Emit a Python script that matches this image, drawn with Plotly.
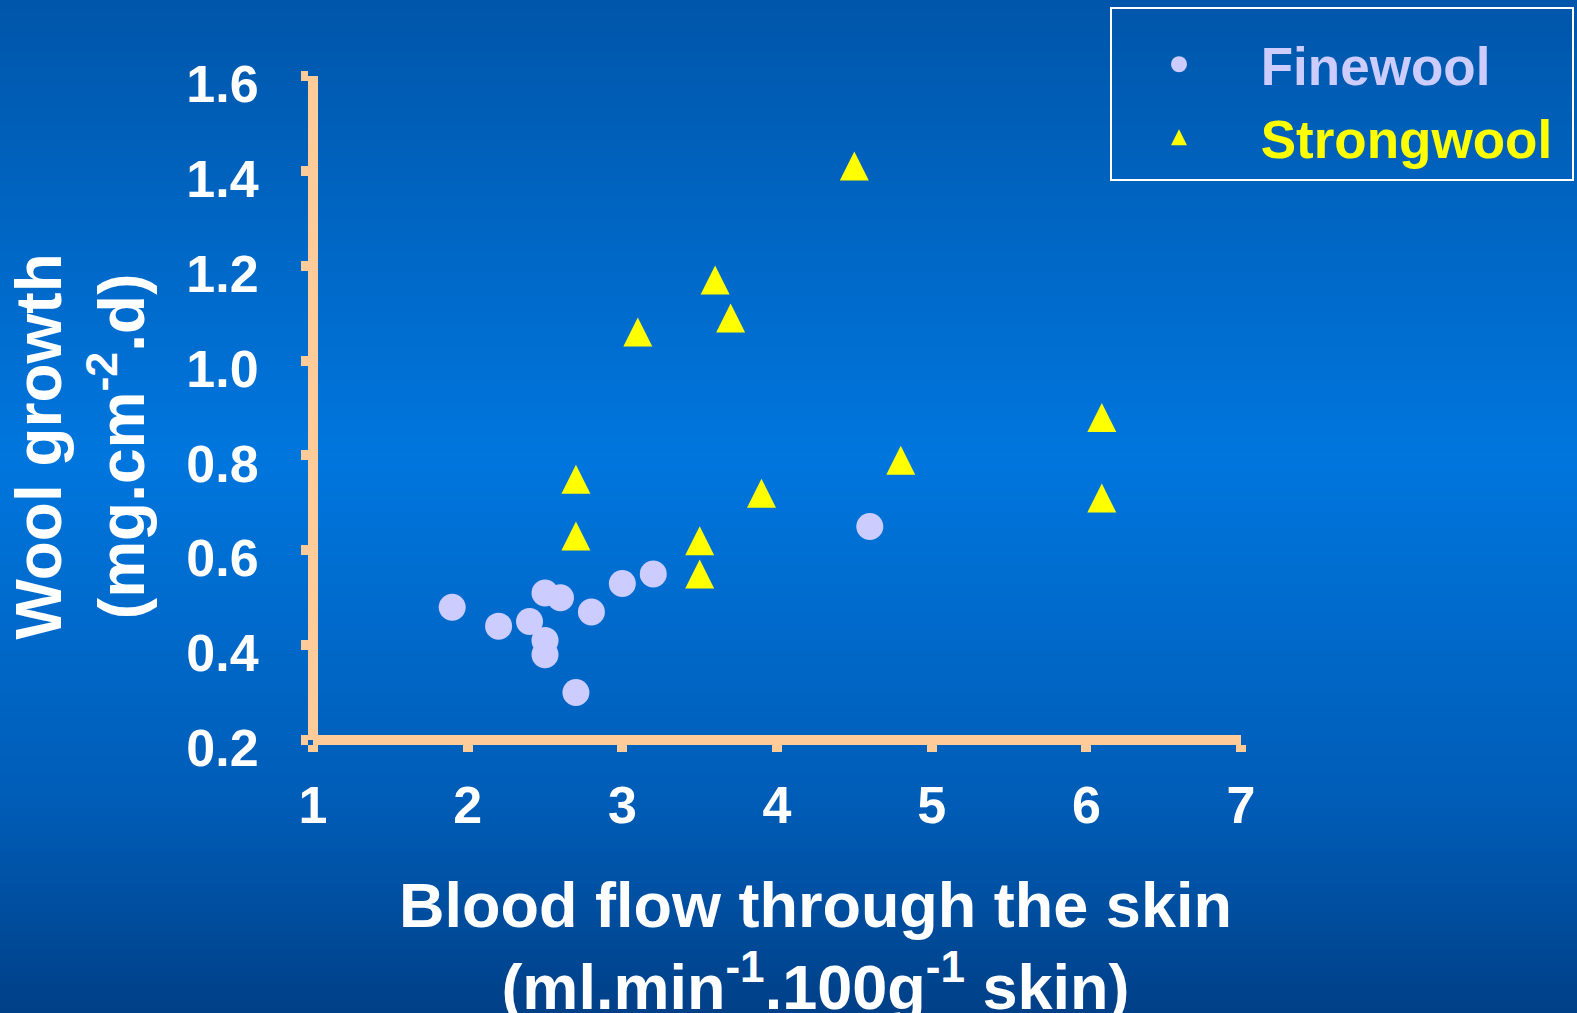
import base64
import struct
import zlib

import plotly.graph_objects as go

# ---------------- data ----------------
fine_x = [1.9, 2.2, 2.4, 2.5, 2.6, 2.5, 2.5, 2.8, 2.7, 3.0, 3.2, 4.6]
fine_y = [0.48, 0.44, 0.45, 0.51, 0.50, 0.41, 0.38, 0.47, 0.30, 0.53, 0.55, 0.65]

strong_x = [4.5, 3.6, 3.7, 3.1, 2.7, 2.7, 3.9, 4.8, 3.5, 3.5, 6.1, 6.1]
strong_y = [1.41, 1.17, 1.09, 1.06, 0.75, 0.63, 0.72, 0.79, 0.62, 0.55, 0.88, 0.71]

x_ticks = [1, 2, 3, 4, 5, 6, 7]
y_ticks = [0.2, 0.4, 0.6, 0.8, 1.0, 1.2, 1.4, 1.6]

series_names = ["Finewool", "Strongwool"]
x_title = "Blood flow through the skin<br>(ml.min<sup>-1</sup>.100g<sup>-1</sup> skin)"
y_title = "Wool growth<br>(mg.cm<sup>-2</sup>.d)"

# ---------------- style ----------------
W, H = 1577, 1013
ML, MR, MT, MB = 313, 336, 76, 273
PW, PH = W - ML - MR, H - MT - MB

FONT = "Liberation Sans, Arial, Helvetica, sans-serif"
AXIS_COLOR = "#FFCC99"
FINE_COLOR = "#CCCCFF"
STRONG_COLOR = "#FFFF00"
TRI = 29          # triangle marker size in the plot (px)
LEG_SIZE = 16     # legend symbols are capped at 16 px by plotly


def gradient_png(stops, n=256):
    rows = []
    for i in range(n):
        t = i / (n - 1)
        for (t0, c0), (t1, c1) in zip(stops[:-1], stops[1:]):
            if t0 <= t <= t1:
                f = (t - t0) / (t1 - t0) if t1 > t0 else 0
                rows.append(tuple(int(round(a + (b - a) * f)) for a, b in zip(c0, c1)))
                break
    raw = b"".join(b"\x00" + bytes(c) * 2 for c in rows)

    def chunk(tag, data):
        return (struct.pack(">I", len(data)) + tag + data +
                struct.pack(">I", zlib.crc32(tag + data) & 0xFFFFFFFF))

    ihdr = struct.pack(">IIBBBBB", 2, n, 8, 2, 0, 0, 0)
    png = (b"\x89PNG\r\n\x1a\n" + chunk(b"IHDR", ihdr) +
           chunk(b"IDAT", zlib.compress(raw)) + chunk(b"IEND", b""))
    return "data:image/png;base64," + base64.b64encode(png).decode()


bg_stops = [(0.0, (0, 86, 170)), (0.45, (0, 118, 222)),
            (0.8, (0, 92, 182)), (1.0, (0, 64, 136))]


def legend_name(color, text):
    return "&nbsp;<span style='color:%s'>%s</span>&nbsp;" % (color, text)


fig = go.Figure()

fig.add_trace(go.Scatter(
    x=fine_x, y=fine_y, mode="markers",
    name=legend_name(FINE_COLOR, series_names[0]),
    legendgroup="a",
    marker=dict(symbol="circle", size=27, color=FINE_COLOR, line=dict(width=0)),
))
# isosceles up-pointing triangle centred on the data point:
# arrow-down rotated 180 degrees, pushed back by half its height
fig.add_trace(go.Scatter(
    x=strong_x, y=strong_y, mode="markers",
    name=legend_name(STRONG_COLOR, series_names[1]),
    legendgroup="b", showlegend=False,
    marker=dict(symbol="arrow-down", angle=180, size=TRI, standoff=TRI / 2,
                color=STRONG_COLOR, line=dict(width=0)),
))
# legend entry for Strongwool (legend draws standoff in the opposite sense)
fig.add_trace(go.Scatter(
    x=[None], y=[None], mode="markers",
    name=legend_name(STRONG_COLOR, series_names[1]),
    legendgroup="b", showlegend=True, hoverinfo="skip",
    marker=dict(symbol="arrow-up", size=LEG_SIZE, standoff=LEG_SIZE / 2,
                color=STRONG_COLOR, line=dict(width=0)),
))

tickfont = dict(family=FONT, size=52, color="white", weight="bold")

fig.update_xaxes(
    range=[1, 7], tickvals=x_ticks, ticktext=[str(v) for v in x_ticks],
    anchor="free", position=0,
    showgrid=False, zeroline=False,
    showline=True, linecolor=AXIS_COLOR, linewidth=10,
    ticks="outside", ticklen=7, tickwidth=10, tickcolor=AXIS_COLOR,
    tickfont=tickfont, ticklabelstandoff=9,
)
fig.update_yaxes(
    range=[0.2, 1.6], tickvals=y_ticks, ticktext=["%.1f" % v for v in y_ticks],
    anchor="free", position=0,
    showgrid=False, zeroline=False,
    showline=True, linecolor=AXIS_COLOR, linewidth=10,
    ticks="outside", ticklen=7, tickwidth=10, tickcolor=AXIS_COLOR,
    tickfont=tickfont, ticklabelstandoff=32, ticklabelshift=8,
)

fig.update_layout(
    width=W, height=H,
    margin=dict(l=ML, r=MR, t=MT, b=MB, autoexpand=False),
    paper_bgcolor="#0066C4",
    plot_bgcolor="rgba(0,0,0,0)",
    font=dict(family=FONT, color="white", weight="bold"),
    images=[dict(
        source=gradient_png(bg_stops), xref="paper", yref="paper",
        x=-ML / PW, y=1 + MT / PH, sizex=W / PW, sizey=H / PH,
        xanchor="left", yanchor="top", sizing="stretch", layer="below",
    )],
    legend=dict(
        xref="container", yref="container",
        x=1110 / W, y=1 - 7 / H, xanchor="left", yanchor="top",
        bgcolor="rgba(0,0,0,0)", bordercolor="white", borderwidth=2,
        font=dict(family=FONT, size=53, color="white", weight="bold"),
        title=dict(text="&nbsp;", font=dict(size=11)),
        itemwidth=124, traceorder="grouped", tracegroupgap=1,
        itemsizing="trace",
    ),
    annotations=[
        dict(text=x_title, xref="paper", yref="paper",
             x=(815 - ML) / PW, y=(MT + PH - 868) / PH,
             xanchor="center", yanchor="top", showarrow=False,
             font=dict(family=FONT, size=63, color="white", weight="bold")),
        dict(text=y_title, xref="paper", yref="paper", textangle=-90,
             x=(0 - ML) / PW, y=(MT + PH - 447) / PH,
             xanchor="left", yanchor="middle", showarrow=False,
             font=dict(family=FONT, size=64, color="white", weight="bold")),
    ],
)

fig.write_html(
    "out.html",
    config={"displayModeBar": False},
    post_script="document.body.style.margin='0';"
                "document.documentElement.style.overflow='hidden';",
)
